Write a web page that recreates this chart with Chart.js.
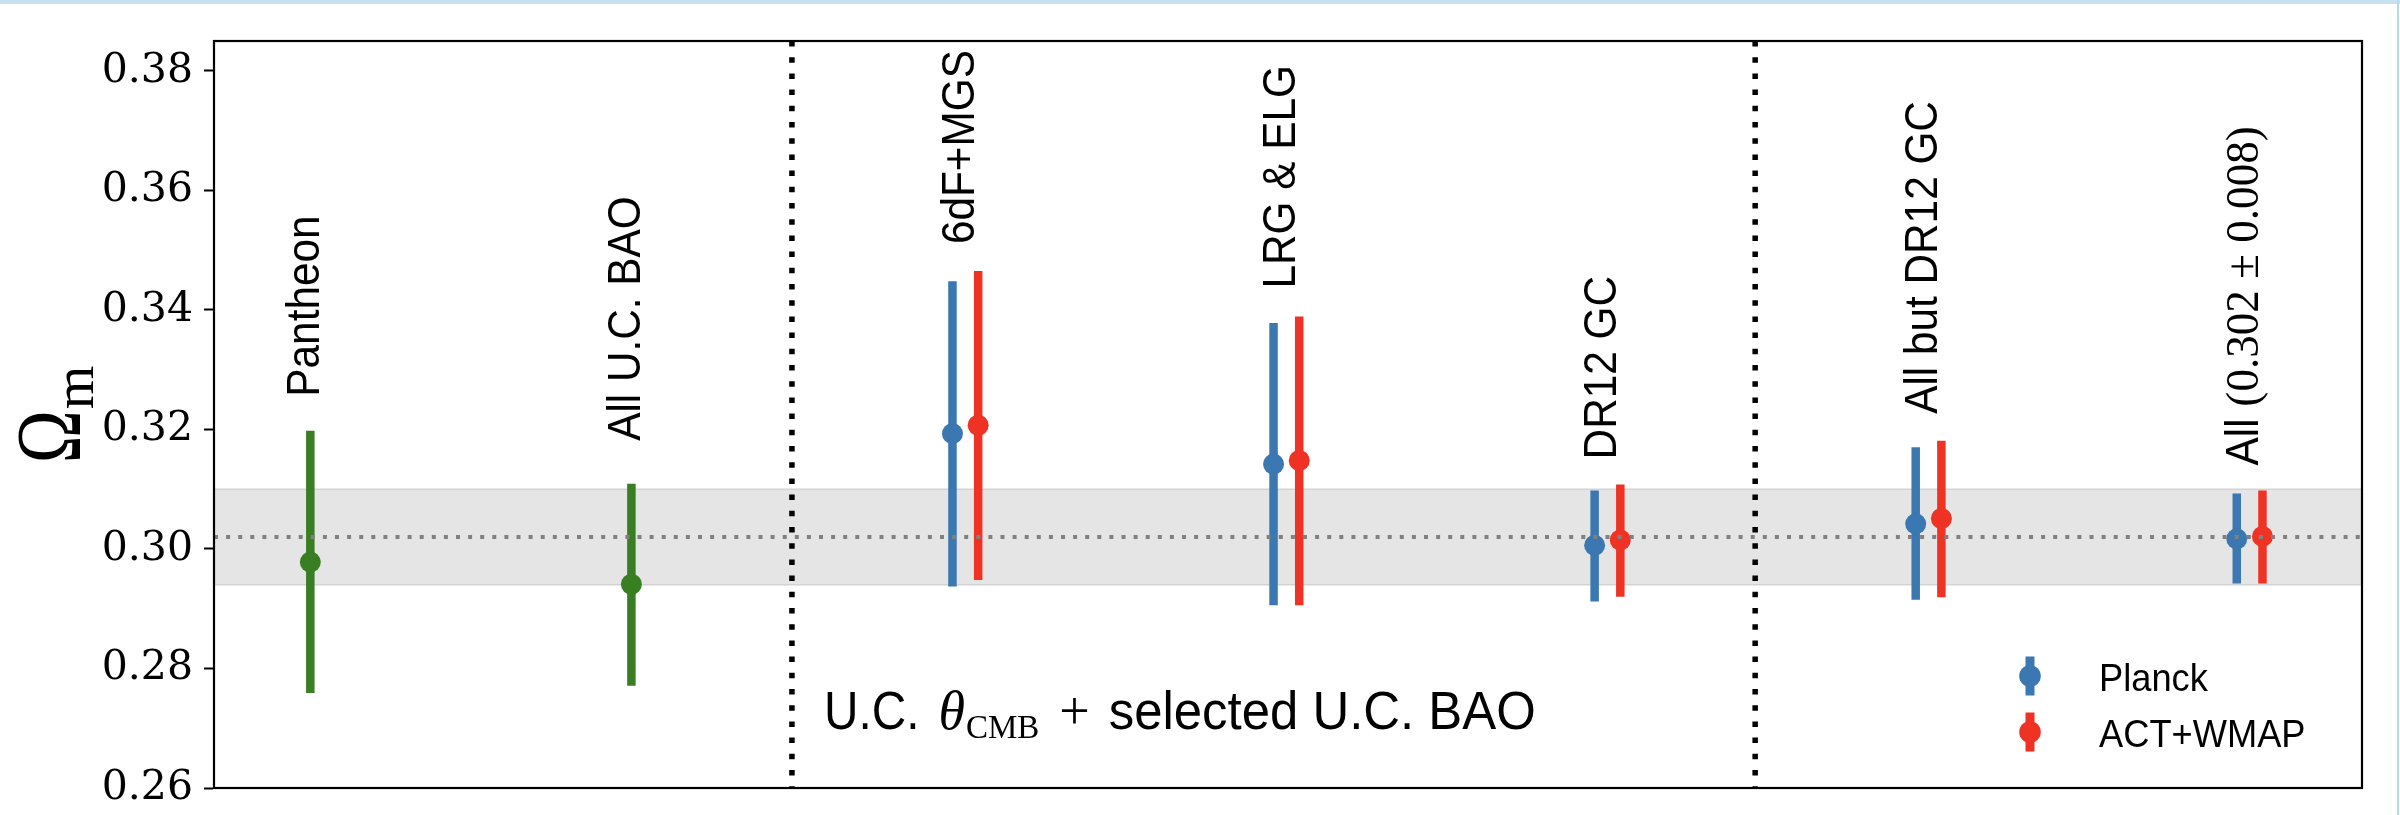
<!DOCTYPE html>
<html>
<head>
<meta charset="utf-8">
<title>Omega_m constraints</title>
<script src="https://cdn.jsdelivr.net/npm/chart.js@4.4.1/dist/chart.umd.min.js"></script>
<style>
  html, body { margin: 0; padding: 0; background: #fff; }
  #wrap { position: relative; width: 2400px; height: 815px; }
  #topline { position: absolute; left: 0; top: 0; width: 2400px; height: 4px; background: #c5e2f1; }
  #rightline { position: absolute; left: 2397px; top: 0; width: 2px; height: 815px; background: #b9d9ee; }
</style>
</head>
<body>
<div id="wrap">
  <canvas id="omegaChart" width="2400" height="815"></canvas>
  <div id="topline"></div>
  <div id="rightline"></div>
</div>
<script>
// dataset names, one per column
const groupLabels = ['Pantheon', 'All U.C. BAO', '6dF+MGS', 'LRG & ELG', 'DR12 GC', 'All but DR12 GC', 'All '];
const combinedText = '(0.302 \u00b1 0.008)';

// supernovae / BAO only (green)
const sneX = [0, 1];
const sneY = [0.2978, 0.2941];
const sneLow = [0.2759, 0.2771];
const sneHigh = [0.3198, 0.3109];

// U.C. theta_CMB from Planck + selected BAO
const planckX = [2, 3, 4, 5, 6];
const planckY = [0.3193, 0.3142, 0.3006, 0.3042, 0.3017];
const planckLow = [0.2937, 0.2906, 0.2912, 0.2915, 0.2942];
const planckHigh = [0.3448, 0.3378, 0.3098, 0.3170, 0.3093];

// same with ACT+WMAP
const actX = [2.08, 3.08, 4.08, 5.08, 6.08];
const actY = [0.3207, 0.3148, 0.3015, 0.3051, 0.3021];
const actLow = [0.2948, 0.2906, 0.2920, 0.2919, 0.2942];
const actHigh = [0.3465, 0.3389, 0.3108, 0.3181, 0.3098];

// combined result and its 1-sigma band
const combined = 0.302;
const combinedErr = 0.008;

const separators = [1.5, 4.5];
const yTicks = [0.26, 0.28, 0.30, 0.32, 0.34, 0.36, 0.38];

const SANS = '"Liberation Sans", Arial, sans-serif';
const SERIF = '"Liberation Serif", "Times New Roman", serif';
const GREEN = '#3a7e24';
const BLUE = '#3b77b0';
const RED = '#ee3325';

const pts = (xs, ys) => xs.map((x, i) => ({ x: x, y: ys[i] }));

// draw a row of text pieces one after another, each with its own font,
// baseline shift and horizontal squeeze
function drawRuns(ctx, runs, x, y) {
  let cx = x;
  runs.forEach(r => {
    ctx.font = r.font;
    const w = ctx.measureText(r.text).width * (r.sx || 1);
    ctx.save();
    ctx.translate(cx, y + (r.dy || 0));
    ctx.scale(r.sx || 1, 1);
    ctx.fillText(r.text, 0, 0);
    ctx.restore();
    cx += w + (r.gap || 0);
  });
  return cx - x;
}

function runsWidth(ctx, runs) {
  let w = 0;
  runs.forEach(r => {
    ctx.font = r.font;
    w += ctx.measureText(r.text).width * (r.sx || 1) + (r.gap || 0);
  });
  return w;
}

const errorBars = {
  id: 'errorBars',
  beforeDatasetsDraw(chart) {
    const { ctx, chartArea: a, scales: { x, y } } = chart;
    ctx.save();
    // grey band
    const yTop = y.getPixelForValue(combined + combinedErr);
    const yBot = y.getPixelForValue(combined - combinedErr);
    ctx.fillStyle = '#e5e5e5';
    ctx.fillRect(a.left, yTop, a.width, yBot - yTop);
    ctx.strokeStyle = '#d3d3d3';
    ctx.lineWidth = 1.5;
    ctx.beginPath();
    ctx.moveTo(a.left, yTop); ctx.lineTo(a.right, yTop);
    ctx.moveTo(a.left, yBot); ctx.lineTo(a.right, yBot);
    ctx.stroke();

    // vertical error bars
    ctx.lineWidth = 8.5;
    ctx.lineCap = 'butt';
    chart.data.datasets.forEach(ds => {
      ctx.strokeStyle = ds.backgroundColor;
      ds.data.forEach((p, i) => {
        const px = x.getPixelForValue(p.x);
        ctx.beginPath();
        ctx.moveTo(px, y.getPixelForValue(ds.errLow[i]));
        ctx.lineTo(px, y.getPixelForValue(ds.errHigh[i]));
        ctx.stroke();
      });
    });
    ctx.restore();
  }
};

const overlay = {
  id: 'overlay',
  afterDatasetsDraw(chart) {
    const { ctx, chartArea: a, scales: { x, y } } = chart;
    ctx.save();

    // dotted line at the combined value
    const yc = y.getPixelForValue(combined);
    ctx.strokeStyle = '#808080';
    ctx.lineWidth = 4;
    ctx.setLineDash([4, 8.1]);
    ctx.beginPath();
    ctx.moveTo(a.left, yc); ctx.lineTo(a.right, yc);
    ctx.stroke();

    // black separators between the three blocks
    ctx.strokeStyle = '#000';
    ctx.lineWidth = 5.5;
    ctx.setLineDash([5.5, 10.7]);
    separators.forEach(s => {
      const px = x.getPixelForValue(s);
      ctx.beginPath();
      ctx.moveTo(px, a.top); ctx.lineTo(px, a.bottom);
      ctx.stroke();
    });
    ctx.setLineDash([]);

    // frame
    ctx.lineWidth = 2.2;
    ctx.strokeRect(a.left, a.top, a.width, a.height);

    // rotated dataset names above each column
    ctx.fillStyle = '#000';
    ctx.textBaseline = 'alphabetic';
    ctx.textAlign = 'left';
    const gaps = [34, 43, 27, 28, 25, 27, 25];
    groupLabels.forEach((name, i) => {
      let gx, top;
      if (i < sneX.length) {
        gx = sneX[i];
        top = sneHigh[i];
      } else {
        const j = i - sneX.length;
        gx = (planckX[j] + actX[j]) / 2;
        top = Math.max(planckHigh[j], actHigh[j]);
      }
      const runs = [{ text: name, font: '47px ' + SANS, sx: 0.9 }];
      if (i === groupLabels.length - 1) {
        runs.push({ text: combinedText, font: '47px ' + SERIF, sx: 0.96 });
      }
      ctx.save();
      ctx.translate(x.getPixelForValue(gx) + 8.5, y.getPixelForValue(top) - gaps[i]);
      ctx.rotate(-Math.PI / 2);
      drawRuns(ctx, runs, 0, 0);
      ctx.restore();
    });

    // block annotation
    drawRuns(ctx, [
      { text: 'U.C.', font: '53px ' + SANS, sx: 0.9, gap: 19 },
      { text: '\u03b8', font: 'italic 54px ' + SERIF, gap: 1 },
      { text: 'CMB', font: '33px ' + SERIF, dy: 9, gap: 20 },
      { text: '+', font: '54px ' + SERIF, gap: 19 },
      { text: 'selected U.C. BAO', font: '53px ' + SANS, sx: 0.96 }
    ], 824, 729);

    // legend
    const legendItems = [
      { name: 'Planck', color: BLUE, cy: 676 },
      { name: 'ACT+WMAP', color: RED, cy: 732 }
    ];
    legendItems.forEach(it => {
      ctx.strokeStyle = it.color;
      ctx.fillStyle = it.color;
      ctx.lineWidth = 9;
      ctx.beginPath();
      ctx.moveTo(2030, it.cy - 19.5); ctx.lineTo(2030, it.cy + 19.5);
      ctx.stroke();
      ctx.beginPath();
      ctx.arc(2030, it.cy, 10.8, 0, Math.PI * 2);
      ctx.fill();
      ctx.fillStyle = '#000';
      drawRuns(ctx, [{ text: it.name, font: '39px ' + SANS, sx: 0.93 }], 2099, it.cy + 15);
    });

    // y axis title, Omega with roman subscript m
    const title = [
      { text: '\u03a9', font: '94px ' + SERIF, sx: 0.76, gap: 1 },
      { text: 'm', font: '56px ' + SERIF, dy: 13 }
    ];
    const tw = runsWidth(ctx, title);
    ctx.save();
    ctx.translate(80, (a.top + a.bottom) / 2 + tw / 2);
    ctx.rotate(-Math.PI / 2);
    drawRuns(ctx, title, 0, 0);
    ctx.restore();

    ctx.restore();
  }
};

const ctx = document.getElementById('omegaChart').getContext('2d');

const chart = new Chart(ctx, {
  type: 'scatter',
  data: {
    datasets: [
      {
        label: 'SNe / BAO',
        data: pts(sneX, sneY),
        errLow: sneLow,
        errHigh: sneHigh,
        backgroundColor: GREEN
      },
      {
        label: 'Planck',
        data: pts(planckX, planckY),
        errLow: planckLow,
        errHigh: planckHigh,
        backgroundColor: BLUE
      },
      {
        label: 'ACT+WMAP',
        data: pts(actX, actY),
        errLow: actLow,
        errHigh: actHigh,
        backgroundColor: RED
      }
    ]
  },
  options: {
    responsive: false,
    animation: false,
    devicePixelRatio: 1,
    events: [],
    layout: {
      padding: { top: 41, right: 38, bottom: 27, left: 0 }
    },
    elements: {
      point: { radius: 10.5, hoverRadius: 10.5, borderWidth: 0 }
    },
    plugins: {
      legend: { display: false },
      tooltip: { enabled: false }
    },
    scales: {
      x: {
        type: 'linear',
        min: -0.3,
        max: 6.39,
        display: false
      },
      y: {
        type: 'linear',
        min: 0.26,
        max: 0.385,
        afterBuildTicks: s => { s.ticks = yTicks.map(v => ({ value: v })); },
        afterFit: s => { s.width = 214; s.paddingTop = 0; s.paddingBottom = 0; },
        ticks: {
          callback: v => v.toFixed(2),
          color: '#000',
          padding: 11,
          font: { family: '"DejaVu Serif", serif', size: 41, lineHeight: 1 }
        },
        grid: {
          drawOnChartArea: false,
          drawTicks: true,
          tickLength: 10,
          tickWidth: 2,
          tickColor: '#000'
        },
        border: { display: true, color: '#000', width: 2 }
      }
    }
  },
  plugins: [errorBars, overlay]
});
</script>
</body>
</html>
